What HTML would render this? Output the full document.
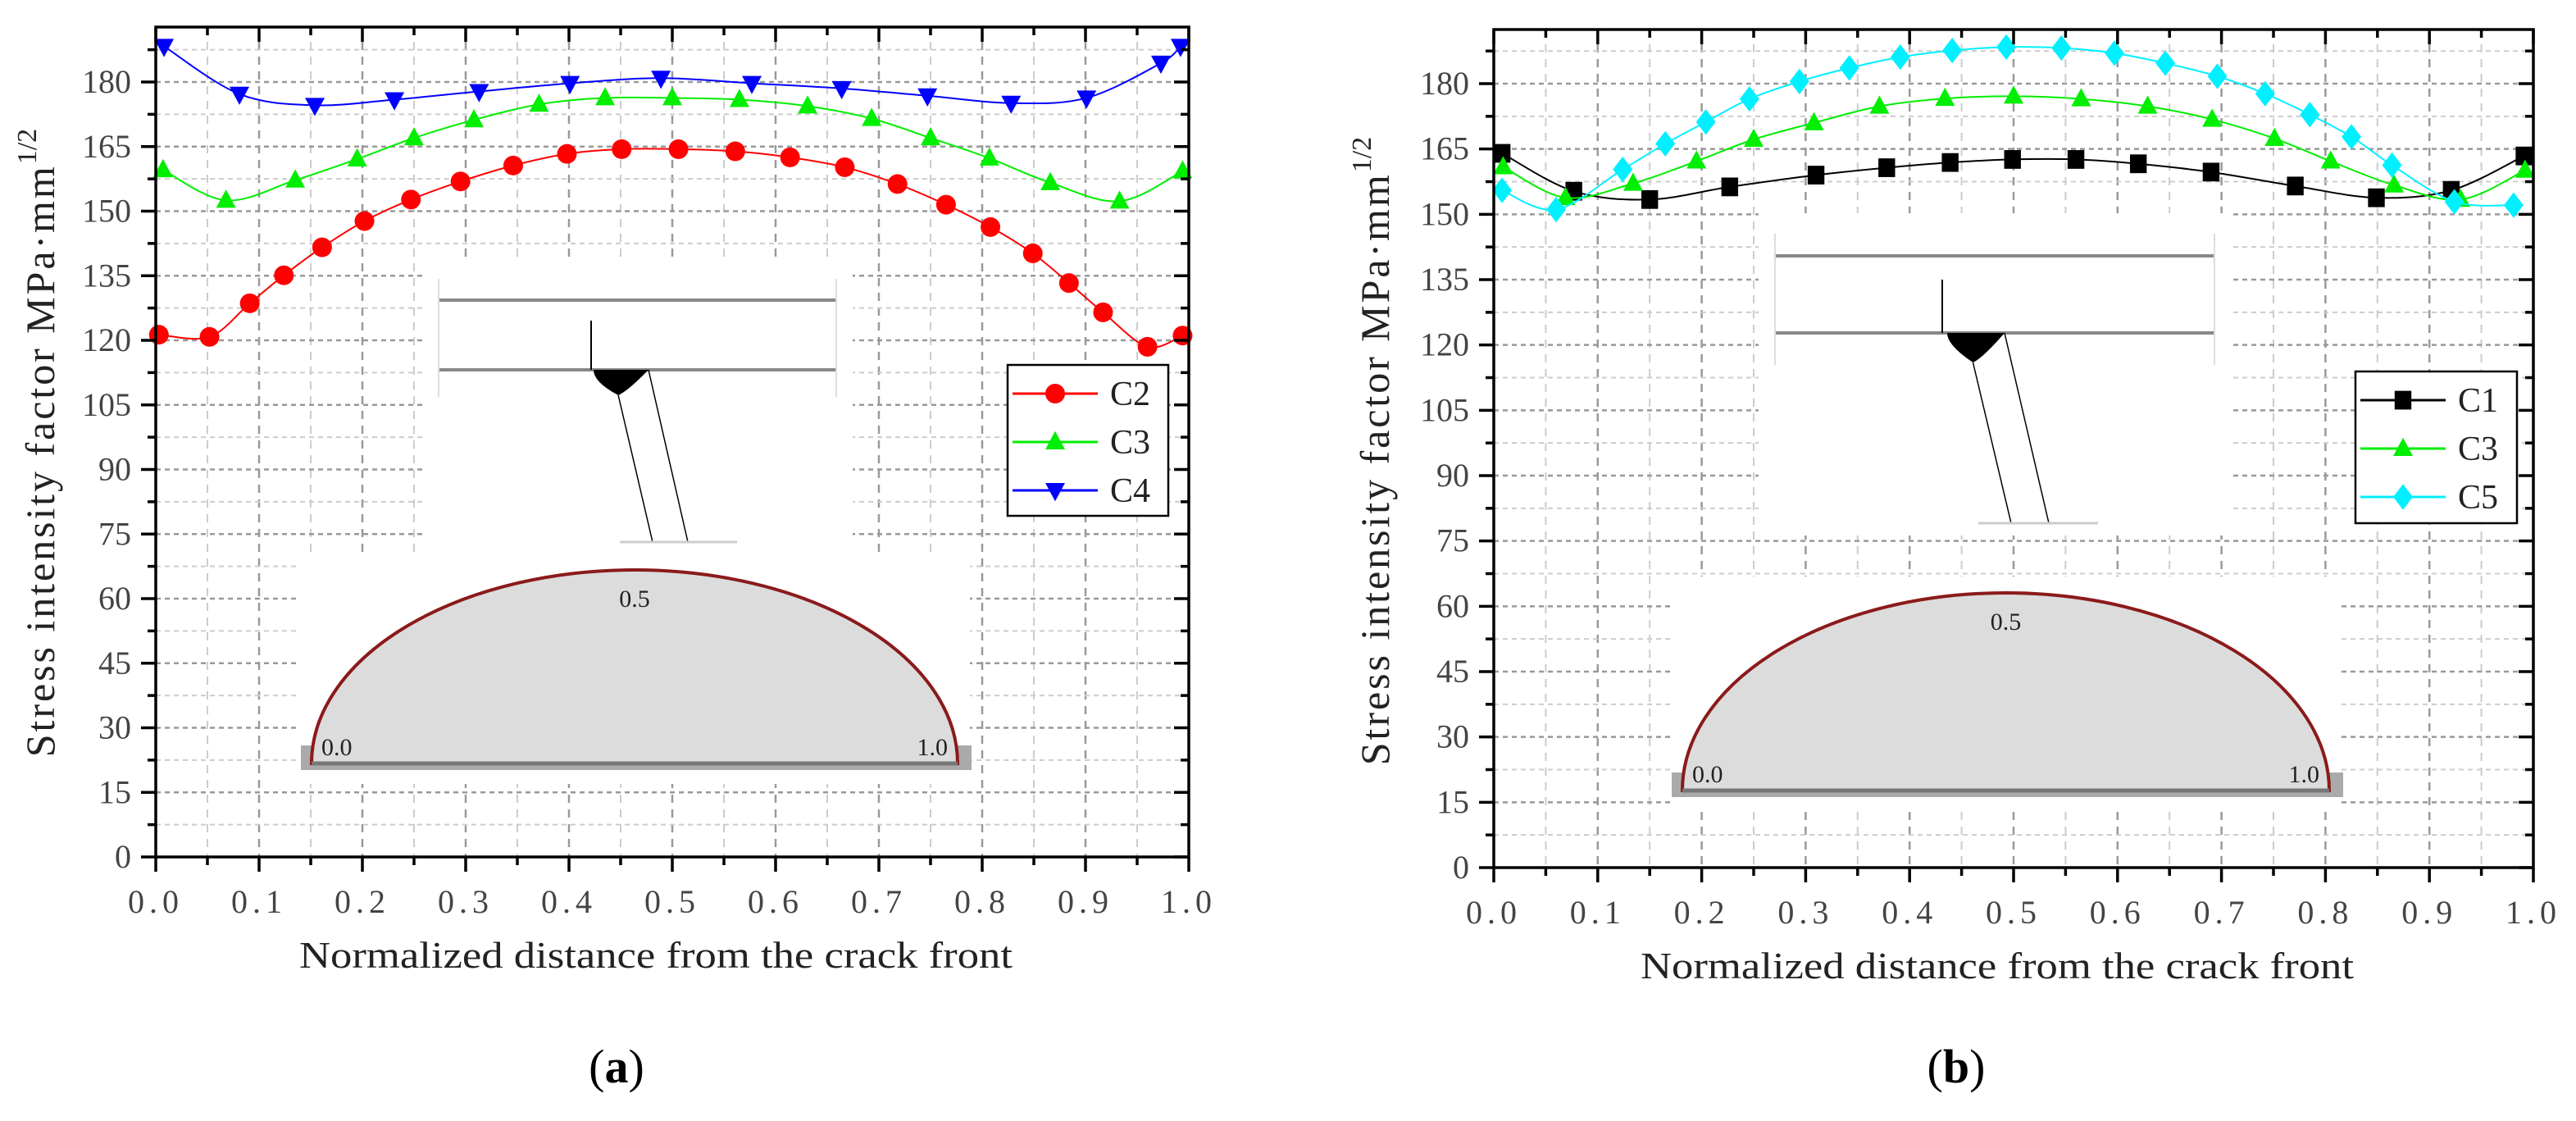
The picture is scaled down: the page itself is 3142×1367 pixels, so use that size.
<!DOCTYPE html>
<html><head><meta charset="utf-8"><style>
html,body{margin:0;padding:0;background:#fff}
svg{display:block}
text{font-family:"Liberation Serif",serif}
</style></head><body>
<svg id="s" width="3142" height="1367" viewBox="0 0 3142 1367" xmlns="http://www.w3.org/2000/svg" font-family="Liberation Serif, serif"></svg>
<script>
// ---- Chart (a) data ----
const xTickLabels = ["0.0","0.1","0.2","0.3","0.4","0.5","0.6","0.7","0.8","0.9","1.0"];
const yTickValues = [0,15,30,45,60,75,90,105,120,135,150,165,180];
const aC2x = [0.003,0.052,0.091,0.124,0.161,0.202,0.247,0.295,0.346,0.398,0.451,0.506,0.561,0.614,0.667,0.718,0.765,0.808,0.849,0.884,0.917,0.960,0.994];
const aC2y = [121.3,120.8,128.6,135.1,141.6,147.7,152.7,156.9,160.6,163.3,164.4,164.4,163.9,162.5,160.2,156.3,151.5,146.3,140.2,133.3,126.5,118.5,121.1];
const aC3x = [0.007,0.068,0.135,0.195,0.25,0.308,0.371,0.435,0.500,0.565,0.631,0.693,0.75,0.807,0.866,0.933,0.994];
const aC3y = [159.6,152.5,157.2,162.1,167.0,171.2,174.8,176.3,176.3,175.9,174.4,171.5,167.0,162.3,156.6,152.3,159.3];
const aC4x = [0.008,0.081,0.154,0.231,0.313,0.401,0.489,0.577,0.664,0.747,0.828,0.901,0.973,0.992];
const aC4y = [188.3,177.2,174.6,175.9,177.8,179.7,180.9,179.7,178.5,176.8,175.1,176.3,184.4,188.3];
// ---- Chart (b) data ----
const bC1x = [0.008,0.077,0.150,0.227,0.310,0.378,0.439,0.499,0.560,0.620,0.690,0.771,0.849,0.921,0.991];
const bC1y = [164.0,155.3,153.4,156.3,159.0,160.7,161.9,162.6,162.6,161.6,159.7,156.5,153.8,155.5,163.4];
const bC3x = [0.009,0.069,0.134,0.195,0.250,0.308,0.371,0.434,0.500,0.565,0.629,0.691,0.751,0.805,0.866,0.930,0.992];
const bC3y = [160.9,153.8,157.1,162.2,167.2,171.0,174.8,176.6,177.1,176.5,174.8,171.8,167.4,162.2,156.7,153.4,160.1];
const bC5x = [0.008,0.060,0.124,0.165,0.204,0.246,0.294,0.342,0.391,0.441,0.493,0.546,0.597,0.646,0.696,0.742,0.785,0.825,0.864,0.924,0.981];
const bC5y = [155.5,151.1,160.3,166.2,171.2,176.5,180.5,183.6,186.1,187.6,188.4,188.2,187.0,184.7,181.7,177.7,172.9,167.8,161.3,152.9,152.1];

const NS="http://www.w3.org/2000/svg";
const svg=document.getElementById('s');
function mk(tag,attrs,parent){const e=document.createElementNS(NS,tag);for(const k in attrs)e.setAttribute(k,attrs[k]);if(tag==='text')e.setAttribute('font-family','Liberation Serif, serif');(parent||svg).appendChild(e);return e;}

function smoothPath(pts){
  let d=`M${pts[0][0]},${pts[0][1]}`;
  for(let i=0;i<pts.length-1;i++){
    const p0=pts[Math.max(0,i-1)],p1=pts[i],p2=pts[i+1],p3=pts[Math.min(pts.length-1,i+2)];
    const c1x=p1[0]+(p2[0]-p0[0])/6,c1y=p1[1]+(p2[1]-p0[1])/6;
    const c2x=p2[0]-(p3[0]-p1[0])/6,c2y=p2[1]-(p3[1]-p1[1])/6;
    d+=` C${c1x},${c1y} ${c2x},${c2y} ${p2[0]},${p2[1]}`;
  }
  return d;
}
function marker(g,type,x,y,color,r){
  let e;
  if(type==='circle') e=mk('circle',{cx:x,cy:y,r:r,fill:color},g);
  else if(type==='up') e=mk('polygon',{points:`${x},${y-r*1.1} ${x-r},${y+r*0.75} ${x+r},${y+r*0.75}`,fill:color},g);
  else if(type==='down') e=mk('polygon',{points:`${x},${y+r*1.1} ${x-r},${y-r*0.75} ${x+r},${y-r*0.75}`,fill:color},g);
  else if(type==='square') e=mk('rect',{x:x-r*0.85,y:y-r*0.95,width:r*1.7,height:r*1.9,fill:color},g);
  else if(type==='diamond') e=mk('polygon',{points:`${x},${y-r*1.3} ${x+r},${y} ${x},${y+r*1.3} ${x-r},${y}`,fill:color},g);
  return e;
}

function drawChart(c){
  const g=mk('g',{});
  
  
  const X=v=>c.L+v*(c.R-c.L);
  const Y=v=>c.y0-v*c.k;
  const grid=mk('g',{},g);
  
  
  for(let i=1;i<20;i++){
    const x=X(i/20);
    mk('line',{x1:x,x2:x,y1:c.T,y2:c.y0,stroke:i%2?'#ccc':'#999','stroke-width':i%2?2:2.5,'stroke-dasharray':'10,8'},grid);
  }
  for(let i=1;i*7.5<c.ymax;i++){
    const y=Y(i*7.5);
    mk('line',{x1:c.L,x2:c.R,y1:y,y2:y,stroke:i%2?'#ccc':'#999','stroke-width':i%2?2:2.5,'stroke-dasharray':'6,5'},grid);
  }
  const ins=mk('g',{},g);
  
  
  const s=c.inset;
  mk('rect',{x:s.bx1-20,y:s.by1-25,width:s.bx2-s.bx1+40,height:s.botY-s.by1+40,fill:'#fff'},ins);
  mk('rect',{x:s.ex1-15,y:s.etop-20,width:s.ex2-s.ex1+30,height:s.ebase-s.etop+45,fill:'#fff'},ins);
  mk('line',{x1:s.bx1,x2:s.bx2,y1:s.ly1,y2:s.ly1,stroke:'#888','stroke-width':4},ins);
  mk('line',{x1:s.bx1,x2:s.bx2,y1:s.ly2,y2:s.ly2,stroke:'#888','stroke-width':4},ins);
  mk('line',{x1:s.bx1,x2:s.bx1,y1:s.by1,y2:s.by2,stroke:'#ddd','stroke-width':2},ins);
  mk('line',{x1:s.bx2,x2:s.bx2,y1:s.by1,y2:s.by2,stroke:'#ddd','stroke-width':2},ins);
  mk('line',{x1:s.stemX,x2:s.stemX,y1:s.stemTop,y2:s.ly2,stroke:'#000','stroke-width':2},ins);
  mk('path',{d:`M${s.wx1},${s.ly2} L${s.wx2},${s.ly2} Q${(s.wx1+s.wx2)/2+8},${s.wy-5} ${s.wx1+ (s.wx2-s.wx1)*0.45},${s.wy} Q${s.wx1},${s.ly2+15} ${s.wx1},${s.ly2}Z`,fill:'#000'},ins);
  mk('line',{x1:s.wx1+(s.wx2-s.wx1)*0.45,y1:s.wy,x2:s.p1x,y2:s.botY,stroke:'#000','stroke-width':1.5},ins);
  mk('line',{x1:s.wx2,y1:s.ly2,x2:s.p2x,y2:s.botY,stroke:'#000','stroke-width':1.5},ins);
  mk('line',{x1:s.p1x-40,x2:s.p2x+60,y1:s.botY,y2:s.botY,stroke:'#ccc','stroke-width':3},ins);
  mk('rect',{x:s.ex1-13,y:s.ebase-22,width:s.ex2-s.ex1+30,height:30,fill:'#aaa'},ins);
  const ecx=(s.ex1+s.ex2)/2, erx=(s.ex2-s.ex1)/2, ery=s.ebase-s.etop;
  mk('path',{d:`M${s.ex1},${s.ebase} A${erx},${ery} 0 0 1 ${s.ex2},${s.ebase} Z`,fill:'#dcdcdc',stroke:'#8b1a1a','stroke-width':4},ins);
  mk('line',{x1:s.ex1,x2:s.ex2,y1:s.ebase,y2:s.ebase,stroke:'#777','stroke-width':5},ins);
  const t1=mk('text',{x:s.ex1+12,y:s.ebase-10,'font-size':30,fill:'#222'},ins);t1.textContent='0.0';
  const t2=mk('text',{x:s.ex2-12,y:s.ebase-10,'font-size':30,fill:'#222','text-anchor':'end'},ins);t2.textContent='1.0';
  const t3=mk('text',{x:ecx,y:s.etop+45,'font-size':30,fill:'#222','text-anchor':'middle'},ins);t3.textContent='0.5';
  c.series.forEach(se=>{
    const sg=mk('g',{},g);
    
    
    const pts=se.xs.map((v,i)=>[X(v),Y(se.ys[i])]);
    mk('path',{d:smoothPath(pts),fill:'none',stroke:se.color,'stroke-width':2},sg);
    pts.forEach(p=>{const m=marker(sg,se.marker,p[0],p[1],se.color,12);
      
      });
  });
  mk('rect',{x:c.L,y:c.T,width:c.R-c.L,height:c.y0-c.T,fill:'none',stroke:'#000','stroke-width':3.5},g);
  for(let i=0;i<=20;i++){
    const x=X(i/20), maj=i%2===0, len=maj?18:10;
    mk('line',{x1:x,x2:x,y1:c.y0,y2:c.y0+len,stroke:'#000','stroke-width':3.5},g);
    mk('line',{x1:x,x2:x,y1:c.T,y2:c.T+len,stroke:'#000','stroke-width':3.5},g);
  }
  xTickLabels.forEach((lab,i)=>{
    const t=mk('text',{x:X(i/10),y:c.y0+68,'font-size':40,fill:'#444','text-anchor':'middle','letter-spacing':6},g);
    t.textContent=lab;
    
    
  });
  for(let i=0;i*7.5<c.ymax;i++){
    const y=Y(i*7.5), maj=i%2===0, len=maj?18:10;
    mk('line',{x1:c.L-len,x2:c.L,y1:y,y2:y,stroke:'#000','stroke-width':3.5},g);
    mk('line',{x1:c.R-len,x2:c.R,y1:y,y2:y,stroke:'#000','stroke-width':3.5},g);
  }
  yTickValues.forEach(v=>{
    const t=mk('text',{x:c.L-30,y:Y(v)+13,'font-size':40,fill:'#444','text-anchor':'end'},g);
    t.textContent=String(v);
    
    
  });
  const xt=mk('text',{x:(c.L+c.R)/2-20,y:c.y0+135,'font-size':46,fill:'#222','text-anchor':'middle',textLength:870,lengthAdjust:'spacingAndGlyphs'},g);
  xt.textContent='Normalized distance from the crack front';
  
  
  const yt=mk('text',{x:0,y:0,'font-size':50,fill:'#222','text-anchor':'middle',transform:`translate(${c.ytx},${c.yty}) rotate(-90)`},g);
  
  
  const ts1=mk('tspan',{textLength:720,lengthAdjust:'spacing'},yt);ts1.textContent='Stress intensity factor MPa·mm';
  const ts2=mk('tspan',{dy:-22,'font-size':34},yt);ts2.textContent='1/2';
  const lg=mk('g',{},g);
  
  
  const Lg=c.legend;
  mk('rect',{x:Lg.x,y:Lg.y,width:Lg.w,height:Lg.h,fill:'#fff',stroke:'#000','stroke-width':2.5},lg);
  c.series.forEach((se,i)=>{
    const ey=Lg.y+35+i*59;
    const e=mk('g',{},lg);
    
    
    mk('line',{x1:Lg.x+6,x2:Lg.x+110,y1:ey,y2:ey,stroke:se.color,'stroke-width':3},e);
    marker(e,se.marker,Lg.x+58,ey,se.color,12);
    const t=mk('text',{x:Lg.x+125,y:ey+14,'font-size':42,fill:'#222'},e);t.textContent=se.label;
  });
  const pl=mk('text',{x:c.plx,y:1320,'font-size':58,fill:'#000','text-anchor':'middle'},g);
  
  
  const p1=mk('tspan',{},pl);p1.textContent='(';
  const p2=mk('tspan',{'font-weight':'bold'},pl);p2.textContent=c.panel;
  const p3=mk('tspan',{},pl);p3.textContent=')';
}

drawChart({name:'chart-a',panel:'a',L:190,R:1450,T:33,y0:1045,k:5.25,ymax:192.8,ytx:66,yty:540,plx:752,
  legend:{x:1229,y:445,w:196,h:184},
  inset:{bx1:535,bx2:1020,by1:340,by2:484,ly1:366,ly2:451,stemX:721,stemTop:391,wx1:724,wx2:791,wy:482,p1x:796,p2x:839,botY:661,
         ex1:380,ex2:1168,etop:695,ebase:931},
  series:[{label:'C2',color:'#ff0000',marker:'circle',xs:aC2x,ys:aC2y},
          {label:'C3',color:'#00ee00',marker:'up',xs:aC3x,ys:aC3y},
          {label:'C4',color:'#0000ff',marker:'down',xs:aC4x,ys:aC4y}]});
drawChart({name:'chart-b',panel:'b',L:1822,R:3090,T:36,y0:1058,k:5.311,ymax:192.4,ytx:1694,yty:550,plx:2386,
  legend:{x:2873,y:453,w:197,h:185},
  inset:{bx1:2165,bx2:2701,by1:285,by2:445,ly1:312,ly2:406,stemX:2369,stemTop:341,wx1:2375,wx2:2445,wy:442,p1x:2453,p2x:2499,botY:638,
         ex1:2052,ex2:2841,etop:723,ebase:964},
  series:[{label:'C1',color:'#000000',marker:'square',xs:bC1x,ys:bC1y},
          {label:'C3',color:'#00ee00',marker:'up',xs:bC3x,ys:bC3y},
          {label:'C5',color:'#00f0ff',marker:'diamond',xs:bC5x,ys:bC5y}]});
</script>
</body></html>
